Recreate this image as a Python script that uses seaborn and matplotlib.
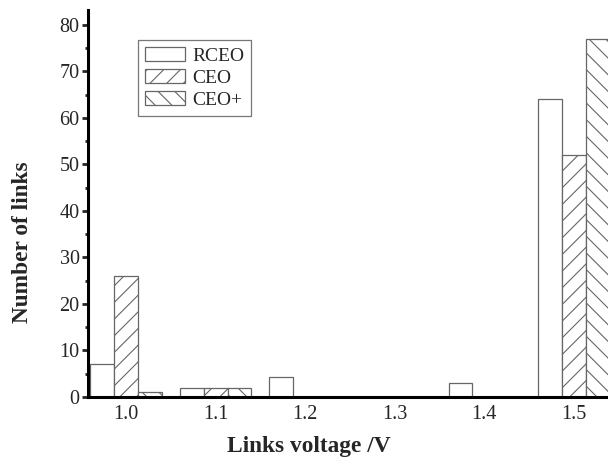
import matplotlib
matplotlib.use("Agg")
import matplotlib.pyplot as plt
import seaborn as sns
import pandas as pd
from matplotlib.ticker import MultipleLocator

# values
voltages = ["1.0", "1.1", "1.2", "1.3", "1.4", "1.5"]
rceo = [7, 2, 4.4, 0, 3, 64]
ceo = [26, 2, 0, 0, 0, 52]
ceo_plus = [1, 2, 0, 0, 0, 77]
series = ["RCEO", "CEO", "CEO+"]
hatches = ["", "//", "\\\\"]

df = pd.DataFrame({
    "voltage": voltages * 3,
    "links": rceo + ceo + ceo_plus,
    "method": [s for s in series for _ in voltages],
})

sns.set_style("ticks")
plt.rcParams["font.family"] = ["Liberation Serif", "DejaVu Serif"]
plt.rcParams["hatch.color"] = "#777777"
plt.rcParams["hatch.linewidth"] = 0.8

fig = plt.figure(figsize=(6.08, 4.57), dpi=100)
ax = fig.add_axes([88 / 608, 60 / 457, 520 / 608, 387 / 457])

sns.barplot(data=df, x="voltage", y="links", hue="method", order=voltages,
            hue_order=series, palette=["white"] * 3, edgecolor="#666666",
            linewidth=0.9, width=0.8, legend=False, ax=ax)

for cont, h in zip(ax.containers, hatches):
    for bar in cont:
        bar.set_hatch(h)

ax.set_xlim(-0.424, 5.38)
ax.set_ylim(0, 83.2)
ax.yaxis.set_major_locator(MultipleLocator(10))
ax.yaxis.set_minor_locator(MultipleLocator(5))
ax.tick_params(axis="y", which="major", length=4, width=2, labelsize=14.5, pad=2)
ax.tick_params(axis="y", which="minor", length=2.5, width=2)
ax.tick_params(axis="x", length=0, labelsize=14.5, pad=6)

for side in ["top", "right"]:
    ax.spines[side].set_visible(False)
for side in ["left", "bottom"]:
    ax.spines[side].set_linewidth(2.2)
    ax.spines[side].set_color("black")

ax.set_xlabel("Links voltage /V", fontsize=16.8, fontweight="bold")
ax.set_ylabel("Number of links", fontsize=16.8, fontweight="bold")
ax.xaxis.set_label_coords(0.425, -0.100)
ax.yaxis.set_label_coords(-0.105, 0.40)

leg = ax.legend(ax.containers, series, loc="upper left",
                bbox_to_anchor=(50 / 520, 1 - 30 / 387), fontsize=14,
                frameon=True, fancybox=False, handlelength=2.05,
                handleheight=0.75, handletextpad=0.4, labelspacing=0.22,
                borderpad=0.35, borderaxespad=0)
leg.get_frame().set_edgecolor("#555555")
leg.get_frame().set_linewidth(0.9)

fig.savefig("out.png", dpi=100, facecolor="white")
